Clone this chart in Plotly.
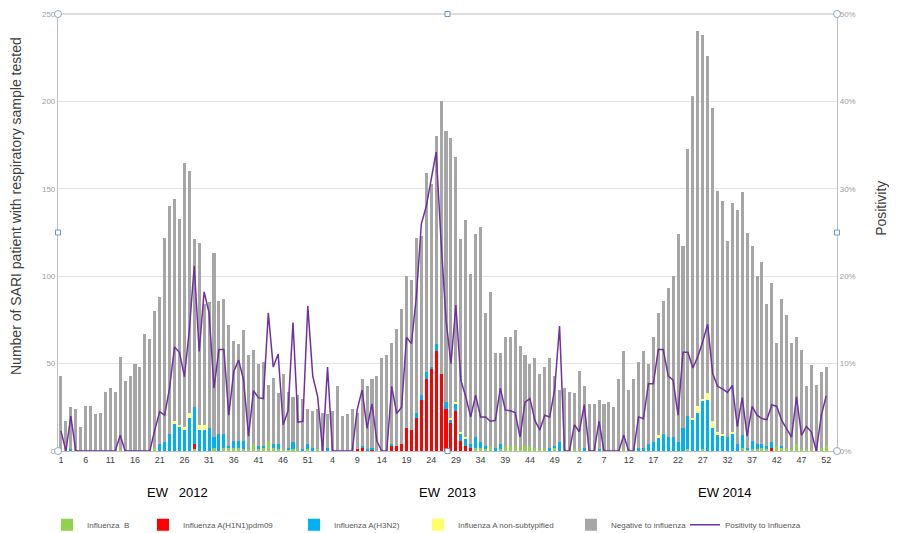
import plotly.graph_objects as go

# ---------------- data ----------------
years = [2012, 2013, 2014]
weeks_per_year = 52

# total SARI patients tested (top of each bar)
total_2012 = [43,17,25,24,14,26,26,21,22,34,36,34,54,40,43,50,48,67,64,80,88,122,140,144,133,165,
              160,121,119,84,85,113,86,87,72,63,61,69,55,58,50,51,38,42,33,44,34,31,32,30,24,23]
total_2013 = [24,22,21,23,37,20,21,24,22,41,37,41,43,53,55,62,70,81,100,98,122,123,159,153,180,200,
              183,179,168,121,132,101,124,128,79,91,56,56,65,65,69,60,55,50,53,44,48,53,43,35,36,34]
total_2014 = [33,46,37,27,27,29,27,28,25,41,57,35,41,51,57,50,65,79,86,93,100,124,117,173,203,240,
              238,226,196,149,143,120,142,138,148,125,117,100,108,84,96,62,87,78,62,65,58,37,49,38,45,48]

# positivity to influenza (%)
pos_2012 = [2.3,0,4,0,0,0,0,0,0,0,0,0,1.8,0,0,0,0,0,0,2.4,4.5,4.1,7.2,11.9,11.3,8.5,
            13.8,21.2,11.4,18.2,15.8,7.2,11.6,11.6,4.1,9.1,10.4,8.1,1.7,6.9,6.1,6.0,15.8,9.6,11.1,3.0,4.6,14.7,3.3,3.4,16.6,8.6]
pos_2013 = [6.2,0,9.6,0,0,0,0,0,4.7,7.0,2.6,5.4,1.1,0,0,7.4,4.3,5.0,13.0,12.3,17.7,26.0,28.0,31.0,34.2,24.0,
            15.0,10.0,16.7,8.1,6.2,3.9,6.4,3.9,3.9,3.4,3.5,7.2,4.7,4.6,4.4,1.6,5.6,6.0,3.5,2.4,4.1,3.9,7.0,14.3,0,0]
pos_2014 = [3.0,2.2,5.3,0,0,3.4,0,0,0,0,1.8,0,0,3.9,3.7,7.7,7.7,11.6,11.6,8.6,8.1,4.1,11.3,11.3,9.5,10.8,
            12.5,14.5,8.9,7.4,7.1,6.7,7.5,2.8,6.1,1.7,5.1,4.1,3.7,3.6,5.3,5.1,3.5,2.6,1.6,6.2,1.8,2.8,2.2,0,4.0,6.3]

# positive samples by type: {epi week: count}
flu_b = {
    2012: {1:1,13:1,20:2,28:1,32:2,34:2,35:2,36:2,37:2,38:1,39:1,40:4,41:1,42:2,43:6,44:2,45:1,46:1,47:1,48:1,49:1,51:1},
    2013: {1:1,33:2,34:2,35:1,36:3,38:1,39:3,40:3,41:3,42:1,43:3,44:3,45:2,46:1,47:2,49:2},
    2014: {1:1,2:1,11:1,24:1,27:1,35:2,36:1,37:1,38:1,39:2,40:1,42:3,43:2,44:2,45:1,46:4,47:1,48:1,49:1,51:2,52:3},
}
flu_h1n1 = {
    2012: {28:3},
    2013: {9:1,10:2,12:1,16:3,17:3,18:4,19:13,20:12,21:19,22:29,23:41,24:47,25:57,26:44,27:24,28:16,29:23,30:6,31:3,32:2},
    2014: {41:2},
}
flu_h3n2 = {
    2012: {3:1,21:4,22:5,23:10,24:16,25:14,26:12,27:19,28:21,29:12,30:12,31:13,32:6,33:10,34:8,35:1,36:4,37:4,38:5,
           41:2,42:1,44:2,45:3,47:1,48:4,50:1,51:3,52:2},
    2013: {3:2,10:1,11:1,12:1,16:1,21:3,22:3,23:4,24:1,25:4,27:4,28:2,29:4,30:4,31:4,32:2,33:6,34:3,35:2,37:2,38:3,
           48:2,49:1,50:5},
    2014: {3:2,6:1,14:2,15:2,16:4,17:5,18:8,19:10,20:8,21:8,22:5,23:13,24:19,25:18,26:22,27:28,28:29,29:13,30:9,
           31:9,32:8,33:10,34:4,35:7,36:1,37:5,38:3,39:2,40:2,41:3,43:1},
}
flu_nonsub = {
    2012: {24:1,25:1,26:2,27:3,29:3,30:3},
    2013: {28:1,29:1,30:1,31:1},
    2014: {18:1,25:1,26:4,27:1,28:4,29:4,30:2,31:1,33:1},
}

# ---------------- build series ----------------
week_labels = [w for _ in years for w in range(1, weeks_per_year + 1)]
totals = total_2012 + total_2013 + total_2014
positivity = [p / 100 for p in pos_2012 + pos_2013 + pos_2014]

def expand(d):
    return [d[y].get(w, 0) for y in years for w in range(1, weeks_per_year + 1)]

b = expand(flu_b)
h1 = expand(flu_h1n1)
h3 = expand(flu_h3n2)
ns = expand(flu_nonsub)
neg = [t - (a + c + e + f) for t, a, c, e, f in zip(totals, b, h1, h3, ns)]
x = list(range(len(totals)))

tickvals = list(range(0, len(x), 5))
ticktext = [str(week_labels[i]) for i in tickvals]

# ---------------- figure ----------------
fig = go.Figure()
bar_series = [
    ("Influenza  B", b, "#92D050"),
    ("Influenza A(H1N1)pdm09", h1, "#FF0000"),
    ("Influenza A(H3N2)", h3, "#00B0F0"),
    ("Influenza A non-subtypified", ns, "#FFFF66"),
    ("Negative to influenza", neg, "#A6A6A6"),
]
legend_ids = ["legend", "legend2", "legend3", "legend4", "legend5", "legend6"]
legend_x = [-0.0141, 0.1091, 0.3030, 0.4621, 0.6585, 0.8049]

for (name, vals, col), lg in zip(bar_series, legend_ids):
    fig.add_trace(go.Bar(x=x, y=vals, name=name, legend=lg,
                         marker=dict(color=col, line=dict(width=0))))

fig.add_trace(go.Scatter(x=x, y=positivity, name="Positivity to Influenza", mode="lines", legend="legend6",
                         line=dict(color="#7030A0", width=1.5), yaxis="y2"))

legend_font = dict(size=8, color="#595959", family="Liberation Sans Narrow, Liberation Sans, sans-serif")
legend_layouts = {}
for lg, lx in zip(legend_ids, legend_x):
    legend_layouts[lg] = dict(orientation="h", x=lx, xanchor="left", y=-0.169, yanchor="middle",
                              font=legend_font, itemwidth=30, bgcolor="rgba(0,0,0,0)")

fig.update_layout(
    width=889, height=525,
    margin=dict(l=50, r=60, t=6, b=82, autoexpand=False),
    barmode="stack", bargap=0.38,
    plot_bgcolor="white", paper_bgcolor="white",
    font=dict(family="Liberation Sans, Arial, sans-serif", color="#404040"),
    showlegend=True,
    xaxis=dict(range=[-0.6, 157.2], tickmode="array", tickvals=tickvals, ticktext=ticktext,
               showgrid=False, zeroline=False, showline=True, linecolor="#BFBFBF", linewidth=1.2,
               ticks="", tickfont=dict(size=9, color="#404040")),
    yaxis=dict(range=[0, 250], dtick=50, showgrid=True, gridcolor="#E3E3E3", gridwidth=1,
               zeroline=False, showline=True, linecolor="#BFBFBF", linewidth=1.2, mirror=False,
               ticks="", tickfont=dict(size=8, color="#A0A0A0")),
    yaxis2=dict(range=[0, 0.5], dtick=0.1, tickformat=".0%", overlaying="y", side="right",
                showgrid=False, zeroline=False, showline=True, linecolor="#BFBFBF", linewidth=1.2,
                ticks="", tickfont=dict(size=8, color="#A0A0A0")),
    **legend_layouts,
)

# top border of the plot area
fig.add_shape(type="line", xref="paper", yref="paper", x0=0, x1=1, y0=1, y1=1,
              line=dict(color="#BFBFBF", width=1.2))

# selection handles: circles at corners, squares at mid-points
for hx, hy in [(0, 1), (1, 1), (0, 0), (1, 0)]:
    fig.add_shape(type="circle", xref="paper", yref="paper", x0=-3.5, y0=-3.5, x1=3.5, y1=3.5,
                  xsizemode="pixel", ysizemode="pixel", xanchor=hx, yanchor=hy,
                  line=dict(color="#8FAAC0", width=1), fillcolor="white")
for hx, hy in [(0, 0.5), (1, 0.5), (0.5, 1), (0.5, 0)]:
    fig.add_shape(type="rect", xref="paper", yref="paper", x0=-2.5, y0=-2.5, x1=2.5, y1=2.5,
                  xsizemode="pixel", ysizemode="pixel", xanchor=hx, yanchor=hy,
                  line=dict(color="#6F97BB", width=1), fillcolor="white")

# axis titles
fig.add_annotation(text="Number of SARI patient with respiratory sample tested", xref="paper", yref="paper",
                   x=-0.053, y=0.56, textangle=-90, showarrow=False,
                   font=dict(size=14, color="#404040"), xanchor="center", yanchor="middle")
fig.add_annotation(text="Positivity", xref="paper", yref="paper", x=1.057, y=0.555, textangle=-90,
                   showarrow=False, font=dict(size=14, color="#404040"), xanchor="center", yanchor="middle")

# year labels
for xp, txt in [(0.154, "EW\u00a0\u00a0\u00a02012"), (0.5, "EW\u00a0\u00a02013"), (0.855, "EW 2014")]:
    fig.add_annotation(text=txt, xref="paper", yref="paper", x=xp, y=-0.094, showarrow=False,
                       font=dict(size=13, color="#000000"), xanchor="center", yanchor="middle")

fig.write_html("out.html")
